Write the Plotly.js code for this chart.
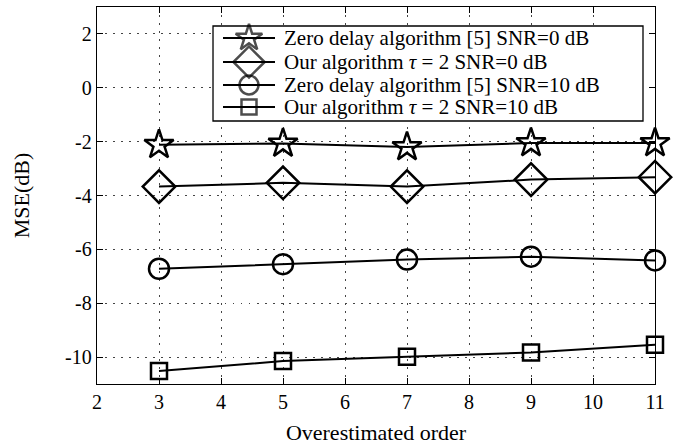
<!DOCTYPE html>
<html><head><meta charset="utf-8">
<script src="https://cdn.plot.ly/plotly-3.0.1.min.js"></script>
<style>html,body{margin:0;padding:0;background:#fff}</style>
</head><body>
<div id="chart" style="width:681px;height:446px"></div>
<script>
const orders = [3, 5, 7, 9, 11];
const zeroDelaySNR0 = [-2.12, -2.07, -2.2, -2.05, -2.05];
const oursSNR0 = [-3.67, -3.53, -3.67, -3.41, -3.32];
const zeroDelaySNR10 = [-6.72, -6.55, -6.38, -6.27, -6.41];
const oursSNR10 = [-10.52, -10.15, -9.99, -9.83, -9.54];
const names = [
  'Zero delay algorithm [5] SNR=0 dB',
  'Our algorithm <i>τ</i> = 2 SNR=0 dB',
  'Zero delay algorithm [5] SNR=10 dB',
  'Our algorithm <i>τ</i> = 2 SNR=10 dB'
];
const xTicks = [2,3,4,5,6,7,8,9,10,11];
const xTickText = ['2','3','4','5','6','7','8','9','10','11'];
const yTicks = [-10,-8,-6,-4,-2,0,2];
const yTickText = ['-10','-8','-6','-4','-2','0','2'];

const series = [zeroDelaySNR0, oursSNR0, zeroDelaySNR10, oursSNR10];
const symbols = ['star-open', 'diamond-open', 'circle-open', 'square-open'];
const sizes = [22, 25, 20, 16];
const legSizes = [20, 24, 19, 15];

const FAM = 'Liberation Serif, Times New Roman, serif';
const tickFont = {family: FAM, color: '#000', size: 20};
const titleFont = {family: FAM, color: '#000', size: 22};

const X_RANGE = [2, 11];
const Y_RANGE = [-11, 3];

const traces = series.map((ys, i) => ({
  x: orders, y: ys, name: names[i], type: 'scatter', mode: 'lines+markers',
  line: {color: '#000', width: 2},
  marker: {symbol: symbols[i], size: sizes[i], color: '#000', line: {color: '#000', width: 2.5}},
  cliponaxis: false, showlegend: false
}));

// custom legend (fractions of the plot area)
const LEG = {x0: 0.2079, x1: 0.9785, y0: 0.6976, y1: 0.9496,
  rows: [0.9178, 0.8541, 0.7931, 0.7347], lineX: [0.2258, 0.2724, 0.319], textX: 0.3315};
const fx = f => X_RANGE[0] + f * (X_RANGE[1] - X_RANGE[0]);
const fy = f => Y_RANGE[0] + f * (Y_RANGE[1] - Y_RANGE[0]);
const shapes = [{type: 'rect', xref: 'x', yref: 'y', x0: fx(LEG.x0), x1: fx(LEG.x1), y0: fy(LEG.y0), y1: fy(LEG.y1),
  fillcolor: '#fff', line: {color: '#000', width: 1.3}, layer: 'between'}];
const annotations = [];
names.forEach((nm, i) => {
  const yy = LEG.rows[i];
  traces.push({
    x: LEG.lineX, y: [yy, yy, yy], xaxis: 'x2', yaxis: 'y2', type: 'scatter', mode: 'lines+markers',
    line: {color: '#000', width: 2}, showlegend: false, hoverinfo: 'skip', cliponaxis: false,
    marker: {symbol: symbols[i], size: [0, legSizes[i], 0], color: '#000',
      line: {color: '#000', width: [0, 2.5, 0]}}
  });
  annotations.push({xref: 'paper', yref: 'paper', x: LEG.textX, y: yy, xanchor: 'left', yanchor: 'middle',
    text: nm, showarrow: false, font: {family: FAM, size: 21, color: '#000'}});
});

const axisCommon = {
  showline: true, mirror: 'ticks', linecolor: '#000', linewidth: 1.3,
  ticks: 'inside', ticklen: 6, tickcolor: '#000', tickwidth: 1,
  showgrid: true, gridcolor: '#444', griddash: '1.5px,6.5px', gridwidth: 1,
  zeroline: false, tickfont: tickFont, tickmode: 'array'
};
const layout = {
  width: 681, height: 446,
  margin: {l: 97, r: 26, t: 7, b: 62},
  paper_bgcolor: '#fff', plot_bgcolor: '#fff',
  font: tickFont, showlegend: false,
  shapes: shapes, annotations: annotations,
  xaxis: Object.assign({}, axisCommon, {range: X_RANGE, tickvals: xTicks, ticktext: xTickText,
    title: {text: 'Overestimated order', font: titleFont, standoff: 12}}),
  yaxis: Object.assign({}, axisCommon, {range: Y_RANGE, tickvals: yTicks, ticktext: yTickText,
    title: {text: 'MSE(dB)', font: titleFont, standoff: 29}}),
  xaxis2: {overlaying: 'x', anchor: 'y2', range: [0, 1], visible: false, fixedrange: true},
  yaxis2: {overlaying: 'y', anchor: 'x2', range: [0, 1], visible: false, fixedrange: true}
};
Plotly.newPlot('chart', traces, layout, {displayModeBar: false, staticPlot: true});
</script>
</body></html>
